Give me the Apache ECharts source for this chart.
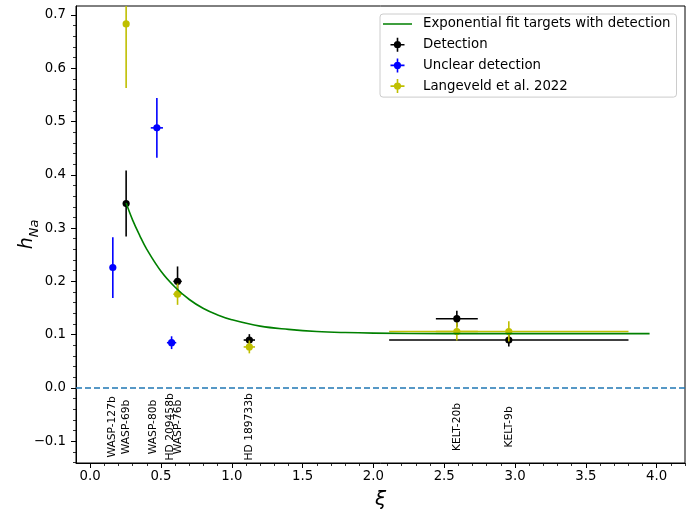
<!DOCTYPE html>
<html><head><meta charset="utf-8">
<script src="https://cdn.jsdelivr.net/npm/echarts@6/dist/echarts.min.js"></script>
<style>html,body{margin:0;padding:0;background:#fff}#c{width:697px;height:513px}</style>
</head><body><div id="c"></div>
<script>
// ---- data ----
const fitX = [0.254, 0.30, 0.35, 0.40, 0.50, 0.60, 0.70, 0.80, 0.90, 1.00, 1.20, 1.40, 1.60, 1.80, 2.00, 2.50, 3.00, 3.50, 3.95];
const fitY = [0.347, 0.315, 0.286, 0.260, 0.219, 0.189, 0.166, 0.149, 0.137, 0.128, 0.116, 0.110, 0.106, 0.104, 0.103, 0.102, 0.102, 0.102, 0.102];

const detX    = [0.254, 0.617, 1.124, 2.589, 2.956];
const detY    = [0.346, 0.200, 0.090, 0.130, 0.090];
const detXerr = [0, 0.030, 0.040, 0.148, 0.845];
const detYerr = [0.062, 0.028, 0.011, 0.015, 0.012];

const uncX    = [0.160, 0.471, 0.575];
const uncY    = [0.226, 0.488, 0.085];
const uncXerr = [0, 0.043, 0.033];
const uncYerr = [0.057, 0.056, 0.012];

const langX    = [0.254, 0.617, 1.124, 2.589, 2.956];
const langY    = [0.683, 0.176, 0.077, 0.106, 0.106];
const langXerr = [0, 0.030, 0.040, 0.148, 0.845];
const langYerr = [0.120, 0.020, 0.012, 0.017, 0.019];

const planetNames  = ['WASP-127b', 'WASP-69b', 'WASP-80b', 'HD 209458b', 'WASP-76b', 'HD 189733b', 'KELT-20b', 'KELT-9b'];
const planetLabelX = [0.153, 0.254, 0.443, 0.565, 0.624, 1.124, 2.589, 2.956];
const planetLabelY = -0.073;

const xTicks = [0.0, 0.5, 1.0, 1.5, 2.0, 2.5, 3.0, 3.5, 4.0];
const yTicks = [-0.1, 0.0, 0.1, 0.2, 0.3, 0.4, 0.5, 0.6, 0.7];
const xMin = -0.1, xMax = 4.2, yMin = -0.1407, yMax = 0.7166;

// ---- helpers ----
const xMinor = []; for (let i = 0; i <= 42; i++) xMinor.push(+(i * 0.1).toFixed(2));
const yMinor = []; for (let i = -7; i <= 35; i++) yMinor.push(+(i * 0.02).toFixed(2));
const fmt = v => (Math.round(v * 10) / 10).toFixed(1).replace('-', '\u2212');
const FONT = 'DejaVu Sans';

function errSeries(name, color, X, Y, XE, YE) {
  return {
    type: 'custom', name, clip: true,
    data: X.map((x, i) => [x, Y[i], XE[i], YE[i]]),
    encode: { x: 0, y: 1 },
    renderItem(params, api) {
      const x = api.value(0), y = api.value(1), xe = api.value(2), ye = api.value(3);
      const cs = params.coordSys;
      const cy = v => Math.max(cs.y, Math.min(cs.y + cs.height, v));
      const c = api.coord([x, y]);
      const t = cy(api.coord([x, y + ye])[1]), b = cy(api.coord([x, y - ye])[1]);
      const l = api.coord([x - xe, y])[0], r = api.coord([x + xe, y])[0];
      const st = { stroke: color, lineWidth: 1.6 };
      const ch = [
        { type: 'line', shape: { x1: c[0], y1: t, x2: c[0], y2: b }, style: st },
      ];
      if (xe > 0) ch.push({ type: 'line', shape: { x1: l, y1: c[1], x2: r, y2: c[1] }, style: st });
      if (c[1] >= cs.y && c[1] <= cs.y + cs.height)
        ch.push({ type: 'circle', shape: { cx: c[0], cy: c[1], r: 3.6 }, style: { fill: color } });
      return { type: 'group', children: ch };
    }
  };
}

const BOX = 'M0,0h0.01v0.01h-0.01z M34.99,13.99h0.01v0.01h-0.01z ';
const errIcon = 'path://' + BOX + 'M13.7,0h1.6v14h-1.6z M7.5,6.2h14v1.6h-14z M18.1,7A3.6,3.6 0 1,1 10.9,7A3.6,3.6 0 1,1 18.1,7z';
const lineIcon = 'path://' + BOX + 'M0,6.25h29v1.5h-29z';

const chart = echarts.init(document.getElementById('c'), null, { renderer: 'canvas' });
chart.setOption({
  animation: false,
  backgroundColor: '#fff',
  textStyle: { fontFamily: FONT },
  grid: { left: 76, right: 12, top: 6, bottom: 50, containLabel: false, outerBoundsMode: 'none',
          show: true, borderColor: '#000', borderWidth: 1, backgroundColor: 'transparent' },
  legend: {
    left: 380, top: 14, orient: 'vertical', itemWidth: 35, itemHeight: 14, itemGap: 6.7,
    padding: [3, 6, 4, 3], borderColor: '#cccccc', borderWidth: 1, borderRadius: 3,
    backgroundColor: 'rgba(255,255,255,0.8)',
    textStyle: { fontFamily: FONT, fontSize: 13.3, color: '#000' },
    data: [
      { name: 'Exponential fit targets with detection', icon: lineIcon, itemStyle: { color: '#008000', borderWidth: 0 } },
      { name: 'Detection', icon: errIcon, itemStyle: { color: '#000000', borderWidth: 0 } },
      { name: 'Unclear detection', icon: errIcon, itemStyle: { color: '#0000ff', borderWidth: 0 } },
      { name: 'Langeveld et al. 2022', icon: errIcon, itemStyle: { color: '#bfbf00', borderWidth: 0 } }
    ]
  },
  xAxis: [
    {
      type: 'value', min: xMin, max: xMax, position: 'bottom',
      name: 'ξ', nameLocation: 'middle', nameGap: 27, nameMoveOverlap: false,
      nameTextStyle: { fontFamily: FONT, fontSize: 20, fontStyle: 'italic', color: '#000' },
      axisLine: { show: true, onZero: false, lineStyle: { color: '#000', width: 1 } },
      axisTick: { show: true, length: 5, customValues: xTicks, lineStyle: { color: '#000', width: 1 } },
      axisLabel: { customValues: xTicks, formatter: fmt, fontFamily: FONT, fontSize: 13.3, color: '#000', margin: 7 },
      splitLine: { show: false }
    },
    {
      type: 'value', min: xMin, max: xMax, position: 'bottom',
      axisLine: { show: false, onZero: false },
      axisTick: { show: true, length: 3, customValues: xMinor, lineStyle: { color: '#000', width: 0.8 } },
      axisLabel: { show: false }, splitLine: { show: false }
    }
  ],
  yAxis: [
    {
      type: 'value', min: yMin, max: yMax, position: 'left',
      name: '{h|h}{s|Na}', nameLocation: 'middle', nameGap: 39, nameRotate: 90, nameMoveOverlap: false,
      nameTextStyle: {
        color: '#000',
        rich: {
          h: { fontFamily: FONT, fontSize: 19, fontStyle: 'italic', color: '#000', verticalAlign: 'bottom', lineHeight: 22 },
          s: { fontFamily: FONT, fontSize: 13, fontStyle: 'italic', color: '#000', verticalAlign: 'bottom', lineHeight: 22, padding: [0, 0, -4, 0] }
        }
      },
      axisLine: { show: true, onZero: false, lineStyle: { color: '#000', width: 1 } },
      axisTick: { show: true, length: 5, customValues: yTicks, lineStyle: { color: '#000', width: 1 } },
      axisLabel: { customValues: yTicks, formatter: fmt, fontFamily: FONT, fontSize: 13.3, color: '#000', margin: 10 },
      splitLine: { show: false }
    },
    {
      type: 'value', min: yMin, max: yMax, position: 'left',
      axisLine: { show: false, onZero: false },
      axisTick: { show: true, length: 3, customValues: yMinor, lineStyle: { color: '#000', width: 0.8 } },
      axisLabel: { show: false }, splitLine: { show: false }
    }
  ],
  series: [
    {
      type: 'line', name: 'zero', data: [[xMin, 0], [xMax, 0]], showSymbol: false, silent: true,
      lineStyle: { color: '#1f77b4', width: 1.5, type: [6, 3] }
    },
    {
      type: 'line', name: 'Exponential fit targets with detection', smooth: 0.4, showSymbol: false,
      data: fitX.map((x, i) => [x, fitY[i]]),
      lineStyle: { color: '#008000', width: 1.6 }, itemStyle: { color: '#008000' }
    },
    errSeries('Detection', '#000000', detX, detY, detXerr, detYerr),
    errSeries('Unclear detection', '#0000ff', uncX, uncY, uncXerr, uncYerr),
    errSeries('Langeveld et al. 2022', '#bfbf00', langX, langY, langXerr, langYerr),
    {
      type: 'custom', name: 'labels', silent: true,
      data: planetNames.map((n, i) => [planetLabelX[i], planetLabelY, n]),
      encode: { x: 0, y: 1 },
      renderItem(params, api) {
        const c = api.coord([api.value(0), api.value(1)]);
        return {
          type: 'text', x: c[0], y: c[1], rotation: Math.PI / 2,
          style: { text: planetNames[params.dataIndex], fill: '#000', font: '10.7px "DejaVu Sans"', align: 'center', verticalAlign: 'middle' }
        };
      }
    }
  ]
});
</script></body></html>
